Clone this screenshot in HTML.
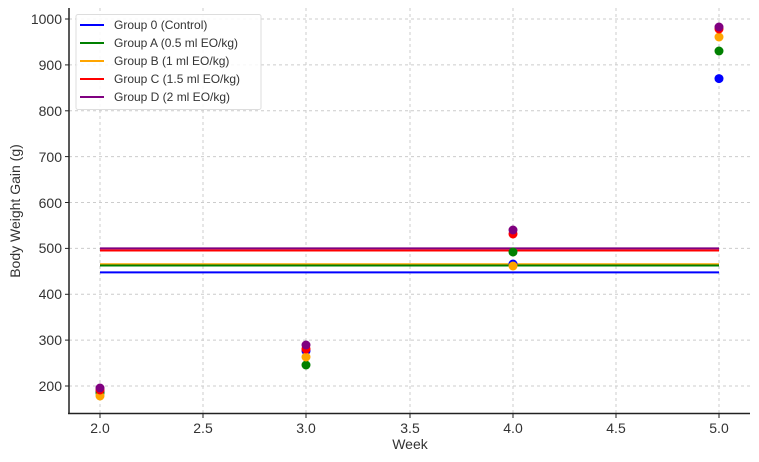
<!DOCTYPE html>
<html><head><style>body{margin:0;background:#fff}svg{display:block}text{font-family:"Liberation Sans","DejaVu Sans",sans-serif;fill:#333}</style></head>
<body>
<svg width="759" height="462" xmlns="http://www.w3.org/2000/svg">
<g stroke="#ccc" stroke-width="1" stroke-dasharray="3,3">
<line x1="69" x2="750" y1="19" y2="19"/><line x1="69" x2="750" y1="64.9" y2="64.9"/><line x1="69" x2="750" y1="110.8" y2="110.8"/><line x1="69" x2="750" y1="156.6" y2="156.6"/><line x1="69" x2="750" y1="202.5" y2="202.5"/><line x1="69" x2="750" y1="248.4" y2="248.4"/><line x1="69" x2="750" y1="294.3" y2="294.3"/><line x1="69" x2="750" y1="340.1" y2="340.1"/><line x1="69" x2="750" y1="386" y2="386"/>
<line x1="100" x2="100" y1="8" y2="413"/><line x1="203" x2="203" y1="8" y2="413"/><line x1="306" x2="306" y1="8" y2="413"/><line x1="410" x2="410" y1="8" y2="413"/><line x1="513" x2="513" y1="8" y2="413"/><line x1="616" x2="616" y1="8" y2="413"/><line x1="719" x2="719" y1="8" y2="413"/>
</g>
<g stroke-width="2">
<line x1="100" x2="719" y1="272.4" y2="272.4" stroke="#0000ff"/>
<line x1="100" x2="719" y1="264.3" y2="264.3" stroke="#ffa500"/>
<line x1="100" x2="719" y1="265.5" y2="265.5" stroke="#008000"/>
<line x1="100" x2="719" y1="250.5" y2="250.5" stroke="#ff0000"/>
<line x1="100" x2="719" y1="248.4" y2="248.4" stroke="#800080"/>
</g>
<g>
<circle cx="100" cy="391.5" r="4.5" fill="#0000ff"/><circle cx="306" cy="351" r="4.5" fill="#0000ff"/><circle cx="513" cy="264" r="4.5" fill="#0000ff"/><circle cx="719" cy="78.6" r="4.5" fill="#0000ff"/>
<circle cx="100" cy="393" r="4.5" fill="#008000"/><circle cx="306" cy="365" r="4.5" fill="#008000"/><circle cx="513" cy="252" r="4.5" fill="#008000"/><circle cx="719" cy="51" r="4.5" fill="#008000"/>
<circle cx="100" cy="396" r="4.5" fill="#ffa500"/><circle cx="306" cy="357" r="4.5" fill="#ffa500"/><circle cx="513" cy="266" r="4.5" fill="#ffa500"/><circle cx="719" cy="37" r="4.5" fill="#ffa500"/>
<circle cx="100" cy="390" r="4.5" fill="#ff0000"/><circle cx="306" cy="349" r="4.5" fill="#ff0000"/><circle cx="513" cy="234" r="4.5" fill="#ff0000"/><circle cx="719" cy="29" r="4.5" fill="#ff0000"/>
<circle cx="100" cy="388" r="4.5" fill="#800080"/><circle cx="306" cy="345" r="4.5" fill="#800080"/><circle cx="513" cy="230" r="4.5" fill="#800080"/><circle cx="719" cy="27" r="4.5" fill="#800080"/>
</g>
<g stroke="#222" stroke-width="1.5">
<line x1="69" x2="69" y1="8" y2="414"/><line x1="68" x2="750" y1="413.5" y2="413.5"/>
</g>
<g stroke="#222" stroke-width="1">
<line x1="65" x2="69" y1="19" y2="19"/><line x1="65" x2="69" y1="64.9" y2="64.9"/><line x1="65" x2="69" y1="110.8" y2="110.8"/><line x1="65" x2="69" y1="156.6" y2="156.6"/><line x1="65" x2="69" y1="202.5" y2="202.5"/><line x1="65" x2="69" y1="248.4" y2="248.4"/><line x1="65" x2="69" y1="294.3" y2="294.3"/><line x1="65" x2="69" y1="340.1" y2="340.1"/><line x1="65" x2="69" y1="386" y2="386"/>
<line x1="100" x2="100" y1="413" y2="418"/><line x1="203" x2="203" y1="413" y2="418"/><line x1="306" x2="306" y1="413" y2="418"/><line x1="410" x2="410" y1="413" y2="418"/><line x1="513" x2="513" y1="413" y2="418"/><line x1="616" x2="616" y1="413" y2="418"/><line x1="719" x2="719" y1="413" y2="418"/>
</g>
<g font-size="14" text-anchor="end">
<text x="62" y="24">1000</text><text x="62" y="70">900</text><text x="62" y="116">800</text><text x="62" y="162">700</text><text x="62" y="208">600</text><text x="62" y="253">500</text><text x="62" y="299">400</text><text x="62" y="345">300</text><text x="62" y="391">200</text>
</g>
<g font-size="14" text-anchor="middle">
<text x="100" y="433">2.0</text><text x="203" y="433">2.5</text><text x="306" y="433">3.0</text><text x="410" y="433">3.5</text><text x="513" y="433">4.0</text><text x="616" y="433">4.5</text><text x="719" y="433">5.0</text>
<text x="410" y="449">Week</text>
<text transform="translate(20,211) rotate(-90)">Body Weight Gain (g)</text>
</g>
<rect x="76" y="14.5" width="185" height="95" fill="#fff" fill-opacity="0.85" stroke="#ddd" rx="2"/>
<g stroke-width="2">
<line x1="80" x2="104" y1="25" y2="25" stroke="#0000ff"/>
<line x1="80" x2="104" y1="43" y2="43" stroke="#008000"/>
<line x1="80" x2="104" y1="61" y2="61" stroke="#ffa500"/>
<line x1="80" x2="104" y1="79" y2="79" stroke="#ff0000"/>
<line x1="80" x2="104" y1="97" y2="97" stroke="#800080"/>
</g>
<g font-size="12">
<text x="114" y="29">Group 0 (Control)</text>
<text x="114" y="47">Group A (0.5 ml EO/kg)</text>
<text x="114" y="65">Group B (1 ml EO/kg)</text>
<text x="114" y="83">Group C (1.5 ml EO/kg)</text>
<text x="114" y="101">Group D (2 ml EO/kg)</text>
</g>
</svg>
</body></html>
